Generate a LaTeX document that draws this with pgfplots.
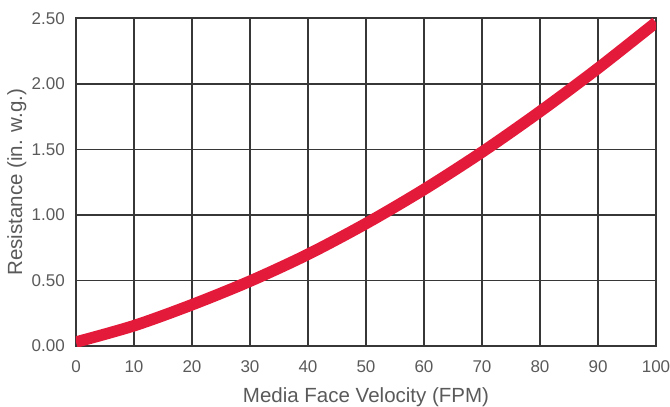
\documentclass[border=0pt]{standalone}
\usepackage{pgfplots}
\pgfplotsset{compat=1.18}
\usepackage{fontspec}
\setmainfont{Liberation Sans}
\definecolor{curvered}{RGB}{228,26,59}
\definecolor{textgray}{RGB}{90,90,90}
\definecolor{gridgray}{RGB}{55,55,55}
\begin{document}
\begin{tikzpicture}
\begin{axis}[
  scale only axis,
  width=580pt, height=327.5pt,
  xmin=0, xmax=100, ymin=0, ymax=2.5,
  xtick={0,10,...,100},
  ytick={0,0.5,...,2.5},
  yticklabel style={/pgf/number format/fixed, /pgf/number format/fixed zerofill, /pgf/number format/precision=2},
  /pgf/number format/assume math mode=true,
  major tick length=0pt,
  grid=major,
  major grid style={gridgray, line width=1.1pt},
  axis line style={gridgray, line width=2pt},
  tick label style={font=\fontsize{17}{17}\selectfont, text=textgray, inner sep=0pt},
  xticklabel style={anchor=base, yshift=-26pt},
  yticklabel style={anchor=east, xshift=-11pt},
  label style={font=\fontsize{20.5}{20.5}\selectfont, text=textgray, inner sep=0pt},
  xlabel={Media Face Velocity (FPM)},
  ylabel={Resistance (in. w.g.)},
  xlabel style={at={(axis description cs:0.5,-0.174)}, anchor=base},
  ylabel style={at={(axis description cs:-0.0931,0.5)}, anchor=base},
]
% resistance curve
\addplot[curvered, line width=11.5pt, smooth] coordinates {
  (0,0.03) (10,0.155) (20,0.315) (30,0.495) (40,0.70) (50,0.935)
  (60,1.195) (70,1.48) (80,1.79) (90,2.12) (100,2.47)
};
\end{axis}
\pgfresetboundingbox
\path[use as bounding box] (-76pt,-61pt) rectangle (594pt,346pt);
\end{tikzpicture}
\end{document}
